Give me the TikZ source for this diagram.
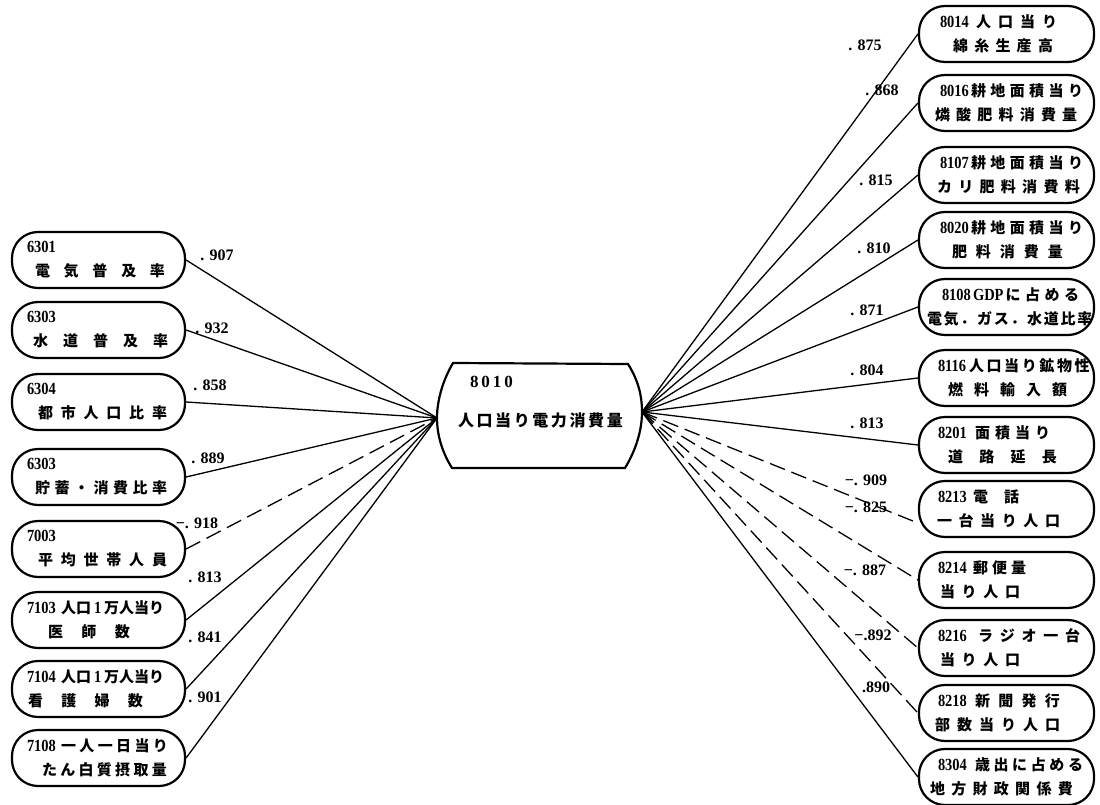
\documentclass[tikz,border=0pt]{standalone}
\usepackage{fontspec}
\setmainfont{Liberation Serif}
\newfontfamily\cjk{Noto Sans CJK JP}
\newfontfamily\numfam[FakeStretch=0.85]{Liberation Serif}
\makeatletter
\newcommand\jsp[2]{\let\jsp@sep\relax\@tfor\jsp@c:=#2\do{\jsp@sep\jsp@c\def\jsp@sep{\kern#1pt}}}
\makeatother
\newcommand\numf{\numfam\bfseries\fontsize{17}{24}\selectfont}
\newcommand\nm[2]{\makebox[#1pt][l]{\numf #2}}
\tikzset{
  box/.style={draw, line width=2.2pt, rounded corners=26pt, minimum height=56pt,
    inner xsep=8pt, inner ysep=0pt, align=left, font=\cjk\bfseries\fontsize{15}{24}\selectfont},
  lbox/.style={box, text width=157pt},
  rbox/.style={box, text width=159pt},
  conn/.style={line width=1.3pt},
  dconn/.style={conn, dash pattern=on 16pt off 7pt},
  val/.style={font=\rmfamily\bfseries\fontsize{16}{16}\selectfont, inner sep=0pt},
  centre/.style={align=left, text width=165pt, inner sep=0pt, font=\cjk\bfseries\fontsize{16}{39}\selectfont},
  barrel/.style={line width=2.2pt},
}
\begin{document}
\begin{tikzpicture}[x=1pt,y=-1pt]
\useasboundingbox (0,0) rectangle (1100,805);
% centre
\draw[barrel] (453,363) -- (628,364) .. controls (638,380) and (642,395) .. (642,412)
  .. controls (642,430) and (636,450) .. (625,468) -- (452,468)
  .. controls (442,452) and (437,435) .. (437,418)
  .. controls (437,400) and (443,380) .. (453,363) -- cycle;
\node[centre] (c) at (540.5,402.5) {\hspace*{12pt}{\rmfamily\bfseries\fontsize{17}{39}\selectfont 8\kern3pt0\kern3pt1\kern3pt0}\\ \jsp{2.6}{人口当り電力消費量}};
\coordinate (cL) at (437,418);
\coordinate (cR) at (642,412);
% left boxes
\node[lbox] (l1) at (98.5,260) {{\hspace*{7pt}\numf 6301}\\ \hspace*{15pt}\jsp{13.75}{電気普及率}};
\node[lbox] (l2) at (98.5,330) {{\hspace*{7pt}\numf 6303}\\ \hspace*{13pt}\jsp{15}{水道普及率}};
\node[lbox] (l3) at (98.5,402) {{\hspace*{7pt}\numf 6304}\\ \hspace*{18pt}\jsp{7.8}{都市人口比率}};
\node[lbox] (l4) at (98.5,477) {{\hspace*{7pt}\numf 6303}\\ \hspace*{15pt}\jsp{4.5}{貯蓄・消費比率}};
\node[lbox] (l5) at (98.5,549) {{\hspace*{7pt}\numf 7003}\\ \hspace*{18pt}\jsp{7.8}{平均世帯人員}};
\node[lbox] (l6) at (98.5,620) {\hspace*{7pt}\nm{34}{7103}人口\hspace{3pt}{\numf 1}\hspace{3pt}万人当り\\ \hspace*{28pt}\jsp{18.5}{医師数}};
\node[lbox] (l7) at (98.5,689) {\hspace*{7pt}\nm{34}{7104}人口\hspace{3pt}{\numf 1}\hspace{3pt}万人当り\\ \hspace*{8pt}\jsp{18.3}{看護婦数}};
\node[lbox] (l8) at (98.5,758) {\hspace*{7pt}\nm{34}{7108}\jsp{3.4}{一人一日当り}\\ \hspace*{22pt}\jsp{3.3}{たん白質摂取量}};
% right boxes
\node[rbox] (r1) at (1006.5,34) {\hspace*{13pt}\nm{36}{8014}\jsp{7}{人口当り}\\ \hspace*{26pt}\jsp{6.25}{綿糸生産高}};
\node[rbox] (r2) at (1006.5,103) {\hspace*{13pt}\nm{31}{8016}\jsp{4.4}{耕地面積当り}\\ \hspace*{8pt}\jsp{6.2}{燐酸肥料消費量}};
\node[rbox] (r3) at (1006.5,175) {\hspace*{13pt}\nm{31}{8107}\jsp{4.4}{耕地面積当り}\\ \hspace*{10pt}\jsp{6.3}{カリ肥料消費料}};
\node[rbox] (r4) at (1006.5,240) {\hspace*{13pt}\nm{31}{8020}\jsp{4.4}{耕地面積当り}\\ \hspace*{25pt}\jsp{9}{肥料消費量}};
\node[rbox] (r5) at (1006.5,307) {\hspace*{15pt}\nm{31}{8108}{\numf GDP}\hspace{2pt}\jsp{4.5}{に占める}\\ \jsp{1.7}{電気．ガス．水道比率}};
\node[rbox] (r6) at (1006.5,378) {\hspace*{11pt}\nm{31}{8116}\jsp{2.6}{人口当り鉱物性}\\ \hspace*{21pt}\jsp{11}{燃料輸入額}};
\node[rbox] (r7) at (1006.5,445) {\hspace*{11pt}\nm{37}{8201}\jsp{5}{面積当り}\\ \hspace*{21pt}\jsp{16.3}{道路延長}};
\node[rbox] (r8) at (1006.5,509) {\hspace*{11pt}\nm{35}{8213}\jsp{16}{電話}\\ \hspace*{10pt}\jsp{6.6}{一台当り人口}};
\node[rbox] (r9) at (1006.5,580) {\hspace*{11pt}\nm{35}{8214}\jsp{4}{郵便量}\\ \hspace*{13pt}\jsp{6.7}{当り人口}};
\node[rbox] (r10) at (1006.5,648) {\hspace*{11pt}\nm{40}{8216}\jsp{6.75}{ラジオ一台}\\ \hspace*{13pt}\jsp{6.7}{当り人口}};
\node[rbox] (r11) at (1006.5,713) {\hspace*{11pt}\nm{37}{8218}\jsp{8.3}{新聞発行}\\ \hspace*{8pt}\jsp{7}{部数当り人口}};
\node[rbox] (r12) at (1006.5,777) {\hspace*{11pt}\nm{37}{8304}\jsp{3.6}{歳出に占める}\\ \hspace*{3pt}\jsp{6.3}{地方財政関係費}};
% connectors left
\draw[conn] (l1.east) -- (cL);
\draw[conn] (l2.east) -- (cL);
\draw[conn] (l3.east) -- (cL);
\draw[conn] (l4.east) -- (cL);
\draw[dconn] (l5.east) -- (cL);
\draw[conn] (l6.east) -- (cL);
\draw[conn] (l7.east) -- (cL);
\draw[conn] (l8.east) -- (cL);
% connectors right
\draw[conn] (cR) -- (r1.west);
\draw[conn] (cR) -- (r2.west);
\draw[conn] (cR) -- (r3.west);
\draw[conn] (cR) -- (r4.west);
\draw[conn] (cR) -- (r5.west);
\draw[conn] (cR) -- (r6.west);
\draw[conn] (cR) -- (r7.west);
\draw[dconn] (cR) -- ([yshift=-14pt]r8.west);
\draw[dconn] (cR) -- (r9.west);
\draw[dconn] (cR) -- (r10.west);
\draw[dconn] (cR) -- (r11.west);
\draw[conn] (cR) -- (r12.west);
% values left
\node[val] (vl1) at (217,255) {. 907};
\node[val] (vl2) at (212,328) {. 932};
\node[val] (vl3) at (210,385) {. 858};
\node[val] (vl4) at (208,458) {. 889};
\node[val] (vl5) at (197,523) {−. 918};
\node[val] (vl6) at (205,577) {. 813};
\node[val] (vl7) at (205,637) {. 841};
\node[val] (vl8) at (205,697) {. 901};
% values right
\node[val] (vr1) at (865,45) {. 875};
\node[val] (vr2) at (882,90) {. 868};
\node[val] (vr3) at (876,180) {. 815};
\node[val] (vr4) at (874,248) {. 810};
\node[val] (vr5) at (867,310) {. 871};
\node[val] (vr6) at (867,370) {. 804};
\node[val] (vr7) at (867,423) {. 813};
\node[val] (vr8) at (866,480) {−. 909};
\node[val] (vr9) at (866,507) {−. 825};
\node[val] (vr10) at (865,570) {−. 887};
\node[val] (vr11) at (873,635) {−.892};
\node[val] (vr12) at (876,687) {.890};
\end{tikzpicture}
\end{document}
